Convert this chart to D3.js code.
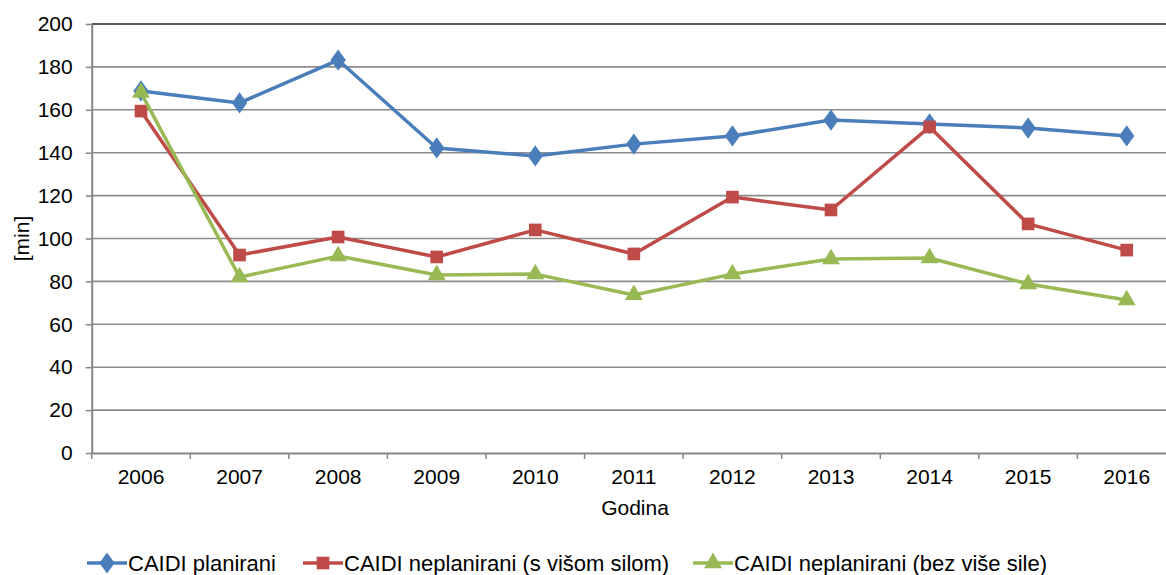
<!DOCTYPE html>
<html><head><meta charset="utf-8">
<script src="https://cdn.jsdelivr.net/npm/d3@7"></script>
<style>body{margin:0;background:#fff}svg{display:block;font-family:"Liberation Sans",Arial,sans-serif}</style>
</head><body><svg id="c" width="1166" height="575"></svg>
<script>
const years = ["2006","2007","2008","2009","2010","2011","2012","2013","2014","2015","2016"];
const planirani = [168.8,163.2,183.2,142.2,138.5,144,147.8,155.2,153.4,151.5,147.8];
const neplaniraniSaVisom = [159.4,92.3,100.7,91.4,104,92.8,119.3,113.3,152,106.8,94.6];
const neplaniraniBez = [168,82,91.8,83,83.4,73.7,83.4,90.4,90.9,78.8,71.3];
const yTicks = [0,20,40,60,80,100,120,140,160,180,200];
const seriesNames = ["CAIDI planirani","CAIDI neplanirani (s višom silom)","CAIDI neplanirani (bez više sile)"];

const FS = 21;
const svg = d3.select("#c");
const L = 91.7, R = 1176, T = 24, B = 453;
const x = d3.scaleBand().domain(years).range([L, R]);
const y = d3.scaleLinear().domain([0,200]).range([B, T]);

// gridlines
svg.append("g").selectAll("line").data(yTicks.filter(d=>d>0)).join("line")
  .attr("x1", L).attr("x2", R).attr("y1", d=>y(d)).attr("y2", d=>y(d))
  .attr("stroke", d=> d===200 ? "#222" : "#8c8c8c").attr("stroke-width", 1.6);

// y axis
const ya = svg.append("g").attr("transform", `translate(${L},0)`)
  .call(d3.axisLeft(y).tickValues(yTicks).tickSize(6).tickSizeOuter(0).tickPadding(13));
ya.select(".domain").attr("stroke","#868686").attr("stroke-width",2);
ya.selectAll(".tick line").attr("stroke","#868686").attr("stroke-width",1.5);
ya.selectAll("text").attr("font-size",FS).attr("fill","#000").attr("font-family","Liberation Sans, Arial, sans-serif");

// x axis
const xa = svg.append("g").attr("transform", `translate(0,${B})`)
  .call(d3.axisBottom(x).tickSize(0).tickSizeOuter(0).tickPadding(16));
xa.select(".domain").attr("stroke","#868686").attr("stroke-width",2);
xa.selectAll("text").attr("font-size",FS).attr("fill","#000").attr("font-family","Liberation Sans, Arial, sans-serif");
svg.append("g").selectAll("line").data(years).join("line")
  .attr("x1", d=>x(d)).attr("x2", d=>x(d)).attr("y1", B).attr("y2", B+6)
  .attr("stroke","#868686").attr("stroke-width",1.5);

// axis titles
svg.append("text").attr("x", 635).attr("y", 515).attr("text-anchor","middle")
  .attr("font-size",FS).text("Godina");
svg.append("text").attr("transform", `translate(29,${(T+B)/2}) rotate(-90)`).attr("text-anchor","middle")
  .attr("font-size",FS).text("[min]");

const colors = ["#4A7EBB","#BE4B48","#98B954"];
const data = [planirani, neplaniraniSaVisom, neplaniraniBez];
const symbols = [d3.symbolDiamond, d3.symbolSquare, d3.symbolTriangle];
const sizes = [130, 160, 140];
const cx = d => x(d) + x.bandwidth()/2;

data.forEach((vals, i) => {
  const pts = years.map((yr, j) => [cx(yr), y(vals[j])]);
  svg.append("path").attr("d", d3.line()(pts)).attr("fill","none")
    .attr("stroke", colors[i]).attr("stroke-width", 3.5).attr("stroke-linejoin","round");
  svg.append("g").selectAll("path").data(pts).join("path")
    .attr("transform", p => `translate(${p[0]},${p[1]})` + (i===0 ? " scale(1.25,1)" : ""))
    .attr("d", d3.symbol().type(symbols[i]).size(sizes[i])()).attr("fill", colors[i]);
});

// legend
const legX = [87, 303, 693];
seriesNames.forEach((n, i) => {
  const g = svg.append("g").attr("transform", `translate(${legX[i]},563)`);
  g.append("line").attr("x1",0).attr("x2",40).attr("stroke",colors[i]).attr("stroke-width",3.5);
  g.append("path").attr("transform", "translate(20,0)" + (i===0 ? " scale(1.25,1)" : ""))
    .attr("d", d3.symbol().type(symbols[i]).size(sizes[i])()).attr("fill",colors[i]);
  g.append("text").attr("x",41).attr("y",7.5).attr("font-size",22).text(n);
});
</script></body></html>
